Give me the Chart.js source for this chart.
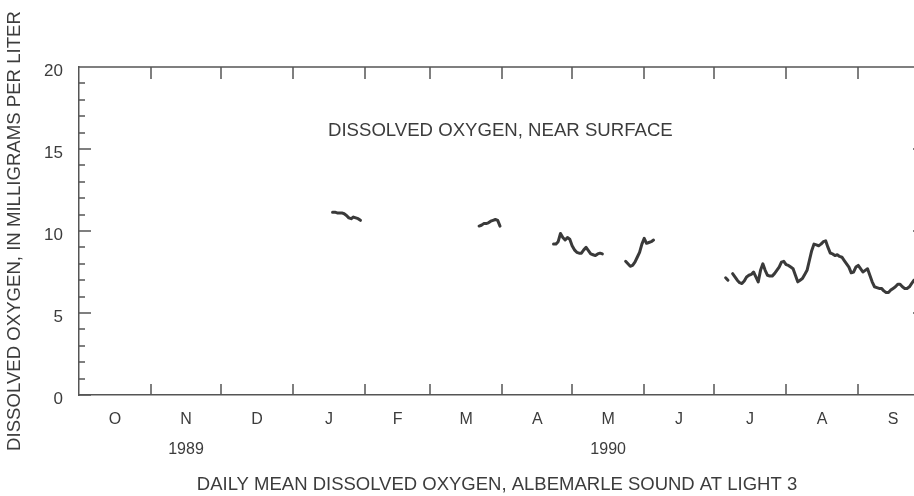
<!DOCTYPE html>
<html>
<head>
<meta charset="utf-8">
<script src="https://cdn.jsdelivr.net/npm/chart.js@4.4.1/dist/chart.umd.min.js"></script>
<style>
  html, body { margin: 0; padding: 0; background: #fff; overflow: hidden; }
  #wrap { width: 940px; height: 496px; }
</style>
</head>
<body>
<div id="wrap"><canvas id="doChart"></canvas></div>
<script>
// Days counted from 1 Oct 1989 (water year 1990); null = gap in record
const dayOfYear = [
  109, 110, 111, 112, 113, 114, 115, 116, 117, 118, 119, 120, 121, 122,
  172, 173, 174, 175, 176, 177, 178, 179, 180, 181, 182,
  204, 205, 206, 207, 208, 209, 210, 211, 212, 213, 214, 215, 216, 217, 218, 219, 220, 221, 222, 223, 224, 225, 226,
  235, 236, 237, 238, 239, 240, 241, 242, 243, 244, 245, 246, 247, 248,
  278, 279, 280,
  281, 282, 283, 284, 285, 286, 287, 288, 289, 290, 291, 292, 293, 294, 295, 296, 297, 298, 299, 300,
  301, 302, 303, 304, 305, 306, 307, 308, 309, 310, 311, 312, 313, 314, 315, 316, 317, 318, 319, 320,
  321, 322, 323, 324, 325, 326, 327, 328, 329, 330, 331, 332, 333, 334, 335, 336, 337, 338, 339, 340,
  341, 342, 343, 344, 345, 346, 347, 348, 349, 350, 351, 352, 353, 354, 355, 356, 357, 358, 359, 360
];
const dailyMeanDO = [
  11.15, 11.15, 11.1, 11.1, 11.1, 11.05, 10.95, 10.8, 10.75, 10.85, 10.8, 10.75, 10.65, null,
  10.3, 10.35, 10.45, 10.45, 10.5, 10.6, 10.65, 10.7, 10.65, 10.3, null,
  9.2, 9.2, 9.35, 9.85, 9.6, 9.45, 9.6, 9.5, 9.1, 8.85, 8.7, 8.65, 8.65, 8.85, 9.0, 8.8, 8.6, 8.55, 8.5, 8.6, 8.65, 8.6, null,
  8.15, 8.0, 7.85, 7.9, 8.1, 8.4, 8.7, 9.2, 9.55, 9.25, 9.3, 9.35, 9.45, null,
  7.15, 7.0, null,
  7.4, 7.2, 7.0, 6.85, 6.8, 6.95, 7.2, 7.3, 7.35, 7.5, 7.2, 6.9, 7.6, 8.0, 7.6, 7.3, 7.25, 7.25, 7.4, 7.6,
  7.8, 8.1, 8.15, 7.95, 7.9, 7.8, 7.7, 7.3, 6.9, 7.0, 7.1, 7.35, 7.6, 8.2, 8.8, 9.2, 9.15, 9.1, 9.2, 9.35,
  9.4, 9.0, 8.65, 8.6, 8.5, 8.55, 8.45, 8.4, 8.2, 8.0, 7.8, 7.45, 7.5, 7.8, 7.9, 7.7, 7.5, 7.6, 7.7, 7.3,
  6.9, 6.6, 6.55, 6.5, 6.5, 6.35, 6.25, 6.25, 6.4, 6.5, 6.6, 6.75, 6.75, 6.6, 6.5, 6.5, 6.6, 6.8, 7.0, 7.05
];

const monthStarts = [0, 31, 61, 92, 123, 151, 182, 212, 243, 273, 304, 335, 365];
const monthLetters = ["O", "N", "D", "J", "F", "M", "A", "M", "J", "J", "A", "S"];
const yearLabels = ["", "1989", "", "", "", "", "", "1990", "", "", "", ""];
const yTicks = [0, 5, 10, 15, 20];

const axisColor = "#555";
const textColor = "#3c3c3c";
const fontFamily = "'Liberation Sans', Arial, sans-serif";

const monthMids = monthStarts.slice(0, -1).map((d, i) => (d + monthStarts[i + 1]) / 2);

// inward tick marks, top frame line, the in-plot note and the caption
const frameTicks = {
  id: "frameTicks",
  afterDraw(chart) {
    const { ctx, chartArea, scales } = chart;
    const x = scales.x, y = scales.y;
    ctx.save();
    ctx.strokeStyle = axisColor;
    ctx.lineWidth = 1.5;
    ctx.beginPath();
    ctx.moveTo(chartArea.left, chartArea.top);
    ctx.lineTo(chartArea.right, chartArea.top);
    monthStarts.slice(1, -1).forEach((d) => {
      const px = Math.round(x.getPixelForValue(d));
      ctx.moveTo(px, chartArea.bottom);
      ctx.lineTo(px, chartArea.bottom - 11);
      ctx.moveTo(px, chartArea.top);
      ctx.lineTo(px, chartArea.top + 12);
    });
    for (let v = 0; v <= 20; v++) {
      const py = Math.round(y.getPixelForValue(v));
      const len = v % 5 === 0 ? 12 : 6;
      ctx.moveTo(chartArea.left, py);
      ctx.lineTo(chartArea.left + len, py);
      if (v % 5 === 0 && v > 0 && v < 20) {
        ctx.moveTo(chartArea.right, py);
        ctx.lineTo(chartArea.right - 15, py);
      }
    }
    ctx.stroke();

    ctx.fillStyle = textColor;
    ctx.font = "18.6px " + fontFamily;
    ctx.textAlign = "left";
    ctx.textBaseline = "middle";
    ctx.fillText("DISSOLVED OXYGEN, NEAR SURFACE", 328, 131);

    ctx.font = "18.5px " + fontFamily;
    ctx.textAlign = "center";
    ctx.fillText("DAILY MEAN DISSOLVED OXYGEN, ALBEMARLE SOUND AT LIGHT 3", 497, 485);
    ctx.restore();
  },
};

const ctx = document.getElementById("doChart").getContext("2d");
new Chart(ctx, {
  type: "line",
  data: {
    datasets: [{
      label: "Dissolved oxygen, near surface",
      data: dayOfYear.map((d, i) => ({ x: d, y: dailyMeanDO[i] })),
      borderColor: "#3a3a3a",
      borderWidth: 3,
      pointRadius: 0,
      tension: 0,
      spanGaps: false,
      borderJoinStyle: "round",
      borderCapStyle: "round",
    }],
  },
  options: {
    responsive: true,
    maintainAspectRatio: false,
    animation: false,
    layout: { padding: { left: 0, right: 12, top: 67, bottom: 21.6 } },
    plugins: {
      legend: { display: false },
      tooltip: { enabled: false },
      title: { display: false },
    },
    scales: {
      x: {
        type: "linear",
        min: 0,
        max: 365,
        afterBuildTicks: (scale) => {
          scale.ticks = monthMids.map((v) => ({ value: v }));
        },
        afterFit: (scale) => {
          scale.height = 79.4;
        },
        ticks: {
          autoSkip: false,
          maxRotation: 0,
          padding: 10,
          color: textColor,
          font: { family: fontFamily, size: 16, lineHeight: 1.875 },
          callback: (value, index) => [monthLetters[index], yearLabels[index]],
        },
        grid: { display: false, drawTicks: false },
        border: { display: true, color: axisColor, width: 1.5 },
      },
      y: {
        min: 0,
        max: 20,
        afterBuildTicks: (scale) => {
          scale.ticks = yTicks.map((v) => ({ value: v }));
        },
        afterFit: (scale) => {
          scale.width = 79;
        },
        ticks: {
          padding: 16,
          labelOffset: 4,
          color: textColor,
          font: { family: fontFamily, size: 17 },
        },
        grid: { display: false, drawTicks: false },
        border: { display: true, color: axisColor, width: 1.5 },
        title: {
          display: true,
          text: "DISSOLVED OXYGEN, IN MILLIGRAMS PER LITER",
          color: textColor,
          font: { family: fontFamily, size: 18.6, lineHeight: 1.2 },
          padding: { top: 4, bottom: 0 },
        },
      },
    },
  },
  plugins: [frameTicks],
});
</script>
</body>
</html>
